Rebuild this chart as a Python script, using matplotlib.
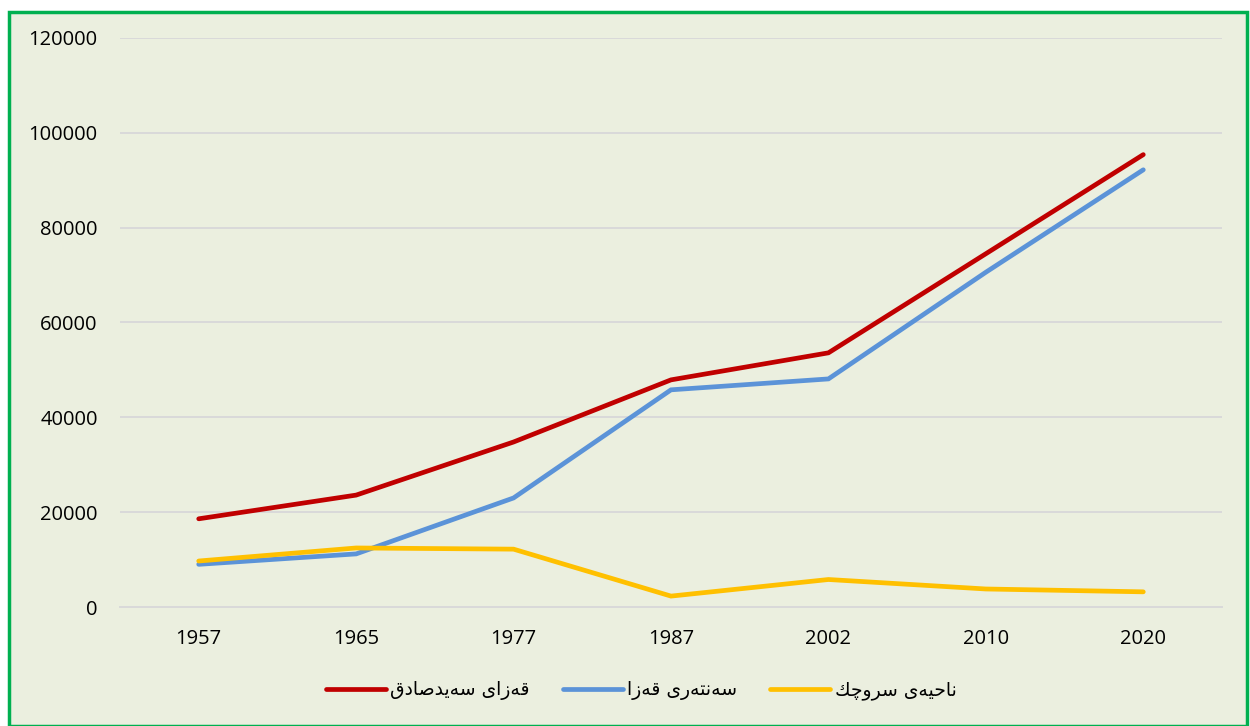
import matplotlib
matplotlib.use("Agg")
import matplotlib.pyplot as plt
from matplotlib.patches import Rectangle

# data
years = ["1957", "1965", "1977", "1987", "2002", "2010", "2020"]
qaza_sayidsadiq = [18600, 23600, 34800, 47900, 53600, 74500, 95400]
santari_qaza = [9000, 11200, 23000, 45800, 48100, 70600, 92200]
nahiya_sruchk = [9700, 12450, 12200, 2300, 5800, 3800, 3200]
labels = ["قەزای سەیدصادق", "سەنتەری قەزا", "ناحیەی سروچك"]
colors = ["#C00000", "#5B93D8", "#FFC000"]
yticks = [0, 20000, 40000, 60000, 80000, 100000, 120000]

# small arabic-script shaper (matplotlib has no bidi / joining)
# letter: (isolated, final, initial, medial); right-joining letters have 2 forms
FORMS = {
    "ق": ("\uFED5", "\uFED6", "\uFED7", "\uFED8"),
    "ی": ("\uFBFC", "\uFBFD", "\uFBFE", "\uFBFF"),
    "س": ("\uFEB1", "\uFEB2", "\uFEB3", "\uFEB4"),
    "ص": ("\uFEB9", "\uFEBA", "\uFEBB", "\uFEBC"),
    "ن": ("\uFEE5", "\uFEE6", "\uFEE7", "\uFEE8"),
    "ت": ("\uFE95", "\uFE96", "\uFE97", "\uFE98"),
    "ح": ("\uFEA1", "\uFEA2", "\uFEA3", "\uFEA4"),
    "چ": ("\uFB7A", "\uFB7B", "\uFB7C", "\uFB7D"),
    "ك": ("\uFED9", "\uFEDA", "\uFEDB", "\uFEDC"),
    "ز": ("\uFEAF", "\uFEB0"),
    "ا": ("\uFE8D", "\uFE8E"),
    "د": ("\uFEA9", "\uFEAA"),
    "ر": ("\uFEAD", "\uFEAE"),
    "و": ("\uFEED", "\uFEEE"),
    "ە": ("\u06D5", "\uFEEA"),
}


def shape(text):
    out = []
    for i, ch in enumerate(text):
        if ch not in FORMS:
            out.append(ch)
            continue
        prev = text[i - 1] if i > 0 else " "
        nxt = text[i + 1] if i + 1 < len(text) else " "
        join_prev = prev in FORMS and len(FORMS[prev]) == 4
        join_next = nxt in FORMS and len(FORMS[ch]) == 4
        f = FORMS[ch]
        if join_prev and join_next:
            out.append(f[3])
        elif join_prev:
            out.append(f[1])
        elif join_next:
            out.append(f[2])
        else:
            out.append(f[0])
    return "".join(out)[::-1]


plt.rcParams["font.family"] = ["Open Sans", "DejaVu Sans"]

fig = plt.figure(figsize=(12.5, 7.26), dpi=100)
fig.patch.set_facecolor("white")
fig.patches.append(Rectangle((0.0075, 0.0), 0.99, 0.984, transform=fig.transFigure,
                             facecolor="#EBEFDF", edgecolor="#00B050", linewidth=2.5,
                             zorder=-10))

ax = fig.add_axes([0.096, 0.1639, 0.8816, 0.7838])
ax.set_facecolor("none")
x = range(len(years))
for vals, lab, c in zip([qaza_sayidsadiq, santari_qaza, nahiya_sruchk], labels, colors):
    ax.plot(x, vals, color=c, linewidth=3.4, solid_capstyle="round",
            solid_joinstyle="miter", label=shape(lab))

ax.set_xlim(-0.5, len(years) - 0.5)
ax.set_ylim(0, 120000)
ax.set_xticks(list(x))
ax.set_xticklabels(years)
ax.set_yticks(yticks)
ax.set_yticklabels([str(v) for v in yticks])
ax.grid(axis="y", color="#D9D9D9", linewidth=1.4)
ax.set_axisbelow(True)
for s in ax.spines.values():
    s.set_visible(False)
ax.spines["bottom"].set_visible(True)
ax.spines["bottom"].set_color("#D9D9D9")
ax.spines["bottom"].set_linewidth(1.4)
ax.tick_params(length=0, labelsize=14.5, colors="black")
ax.tick_params(axis="x", pad=16)
ax.tick_params(axis="y", pad=16)

leg = fig.legend(loc="center", bbox_to_anchor=(0.513, 0.049), ncol=3, frameon=False,
                 handlelength=3.2, handletextpad=0.25, columnspacing=1.75,
                 prop={"family": ["DejaVu Sans"], "size": 13.5})

fig.savefig("out.png", dpi=100)
